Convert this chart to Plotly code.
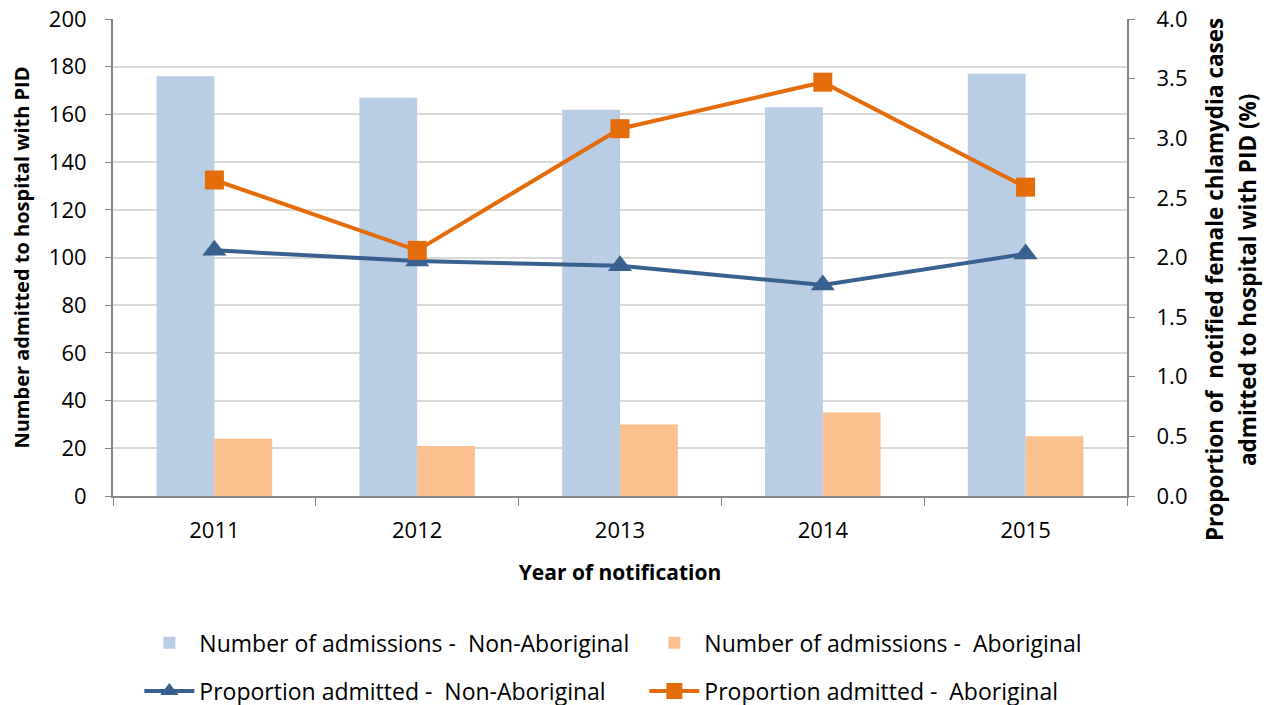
import plotly.graph_objects as go

years = ["2011", "2012", "2013", "2014", "2015"]
adm_non_aboriginal = [176, 167, 162, 163, 177]
adm_aboriginal = [24, 21, 30, 35, 25]
prop_non_aboriginal = [2.06, 1.97, 1.93, 1.77, 2.03]
prop_aboriginal = [2.65, 2.06, 3.08, 3.47, 2.59]

FONT = "'Open Sans', sans-serif"
AXIS_GREY = "#868686"
GRID = "#d9d9d9"

fig = go.Figure()

# bars go in the first legend row, lines in the second
fig.add_trace(go.Bar(
    x=years, y=adm_non_aboriginal, name="Number of admissions -  Non-Aboriginal",
    marker=dict(color="#b9cde5", line=dict(width=0)), legend="legend",
))
fig.add_trace(go.Bar(
    x=years, y=adm_aboriginal, name="Number of admissions -  Aboriginal",
    marker=dict(color="#fac090", line=dict(width=0)), legend="legend",
))
fig.add_trace(go.Scatter(
    x=years, y=prop_non_aboriginal, yaxis="y2", mode="lines+markers",
    name="Proportion admitted -  Non-Aboriginal",
    line=dict(color="#37618f", width=4),
    marker=dict(symbol="triangle-up", size=21, color="#37618f"),
    legend="legend2",
))
fig.add_trace(go.Scatter(
    x=years, y=prop_aboriginal, yaxis="y2", mode="lines+markers",
    name="Proportion admitted -  Aboriginal",
    line=dict(color="#e46c0a", width=4),
    marker=dict(symbol="square", size=19, color="#e46c0a"),
    legend="legend2",
))

legend_common = dict(
    orientation="h", xanchor="left", yanchor="middle",
    entrywidth=440, entrywidthmode="pixels",
    font=dict(size=23), itemwidth=50, bgcolor="rgba(0,0,0,0)",
)

# page body adds an 8px offset, so the figure is 8px smaller than the window
fig.update_layout(
    width=1264, height=697,
    template="plotly_white",
    plot_bgcolor="white", paper_bgcolor="white",
    font=dict(family=FONT, size=22, color="#000000"),
    margin=dict(l=105, r=145, t=11, b=209, autoexpand=False),
    barmode="group", bargap=0.43, bargroupgap=0,
    xaxis=dict(
        title=dict(text="<b>Year of notification</b>", font=dict(size=21), standoff=22),
        showline=True, linecolor=AXIS_GREY, linewidth=2,
        ticks="outside", tickson="boundaries", ticklen=8, tickcolor=AXIS_GREY,
        showgrid=False, tickfont=dict(size=22), ticklabelstandoff=14,
        automargin=False,
    ),
    yaxis=dict(
        title=dict(text="<b>Number admitted to hospital with PID</b>", font=dict(size=20), standoff=14),
        range=[0, 200], dtick=20,
        showline=True, linecolor=AXIS_GREY, linewidth=2,
        ticks="outside", ticklen=6, tickcolor=AXIS_GREY,
        showgrid=True, gridcolor=GRID, gridwidth=2,
        zeroline=False, tickfont=dict(size=22), ticklabelstandoff=14,
        ticklabeloverflow="allow", automargin=False,
    ),
    yaxis2=dict(
        overlaying="y", side="right", range=[0, 4], dtick=0.5, tickformat=".1f",
        tickprefix="\u00a0\u00a0\u00a0",
        showline=True, linecolor=AXIS_GREY, linewidth=2,
        ticks="outside", ticklen=6, tickcolor=AXIS_GREY,
        showgrid=False, zeroline=False, tickfont=dict(size=22),
        ticklabeloverflow="allow", automargin=False,
    ),
    legend=dict(x=0.026, y=-0.308, **legend_common),
    legend2=dict(x=0.026, y=-0.409, **legend_common),
    showlegend=True,
)

# right axis title: two lines, a little below the plot's centre
right_title = [
    ("<b>Proportion of  notified female chlamydia cases</b>", 1.0858),
    ("<b>admitted to hospital with PID (%)</b>", 1.1183),
]
for text, xpos in right_title:
    fig.add_annotation(
        text=text, xref="paper", yref="paper", x=xpos, y=0.4528,
        xanchor="center", yanchor="middle", textangle=-90,
        showarrow=False, font=dict(size=22.5),
    )

fig.write_html("out.html")
